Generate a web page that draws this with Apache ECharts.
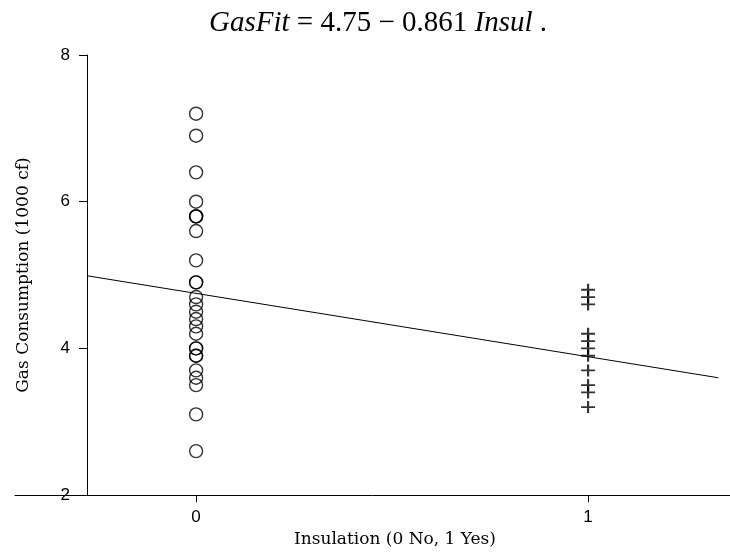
<!DOCTYPE html>
<html>
<head>
<meta charset="utf-8">
<script src="https://cdn.jsdelivr.net/npm/echarts@6/dist/echarts.min.js"></script>
<style>
  html, body { margin: 0; padding: 0; background: #fff; }
  #main { width: 730px; height: 553px; }
</style>
</head>
<body>
<div id="main"></div>
<script>
// gas use (1000 cf) for houses without insulation, x = 0
const gasNoInsul = [7.2, 6.9, 6.4, 6.0, 5.8, 5.8, 5.6, 4.7, 5.8, 5.2, 4.9, 4.9, 4.3,
  4.4, 4.5, 4.6, 3.7, 3.9, 4.2, 4.0, 3.9, 3.5, 4.0, 3.6, 3.1, 2.6];
// with insulation, x = 1
const gasInsul = [4.8, 4.7, 4.6, 4.2, 4.1, 4.0, 3.9, 3.7, 3.5, 3.4, 3.2];
// fitted line end points
const fitX = [-0.278, 1.332];
const fitY = [4.99, 3.60];
const xTicks = [0, 1];
const yTicks = [2, 4, 6, 8];

const times = '"Liberation Serif", serif';
const slab = '"DejaVu Serif", serif';
const sans = '"Liberation Sans", sans-serif';
const black = '#000';

var myChart = echarts.init(document.getElementById('main'));

const option = {
  animation: false,
  backgroundColor: '#fff',
  title: {
    text: '{i|GasFit} = 4.75 \u2212 0.861 {i|Insul} .',
    left: 204,
    top: 4,
    textStyle: {
      fontFamily: times,
      fontSize: 29,
      fontWeight: 'normal',
      color: black,
      rich: {
        i: { fontFamily: times, fontSize: 29, fontStyle: 'italic', color: black }
      }
    }
  },
  grid: { left: 15, right: 0, top: 55, bottom: 55 },
  xAxis: {
    type: 'value',
    min: -0.462,
    max: 1.362,
    name: 'Insulation (0 No, 1 Yes)',
    nameLocation: 'middle',
    nameGap: 35,
    nameTextStyle: { fontFamily: slab, fontSize: 17, color: black, padding: [0, 0, 0, 45] },
    splitLine: { show: false },
    axisLine: { onZero: false, lineStyle: { color: black, width: 1 } },
    axisTick: { customValues: xTicks, length: 7, lineStyle: { color: black } },
    axisLabel: {
      customValues: xTicks,
      margin: 14,
      fontFamily: sans,
      fontSize: 17,
      color: black
    }
  },
  yAxis: {
    type: 'value',
    min: 2,
    max: 8,
    interval: 2,
    offset: -72,
    name: 'Gas Consumption (1000 cf)',
    nameLocation: 'middle',
    nameGap: 55,
    nameTextStyle: { fontFamily: slab, fontSize: 17, color: black },
    splitLine: { show: false },
    axisLine: { show: true, onZero: false, lineStyle: { color: black, width: 1 } },
    axisTick: { show: true, length: 8, lineStyle: { color: black } },
    axisLabel: {
      margin: 17,
      fontFamily: sans,
      fontSize: 17,
      color: black,
      formatter: v => (yTicks.indexOf(v) >= 0 ? String(v) : '')
    }
  },
  series: [
    {
      name: 'No insulation',
      type: 'scatter',
      symbol: 'circle',
      symbolSize: 13,
      itemStyle: { color: 'rgba(0,0,0,0)', borderColor: black, borderWidth: 1.4 },
      data: gasNoInsul.map(v => [0, v])
    },
    {
      name: 'Insulation',
      type: 'scatter',
      symbol: 'path://M7,0L7,12M0,6L14,6',
      symbolSize: [14, 12],
      symbolKeepAspect: false,
      itemStyle: { color: 'none', borderColor: black, borderWidth: 2 },
      data: gasInsul.map(v => [1, v])
    },
    {
      name: 'Fit',
      type: 'line',
      symbol: 'none',
      lineStyle: { color: black, width: 1 },
      data: fitX.map((x, i) => [x, fitY[i]])
    }
  ]
};

myChart.setOption(option);
</script>
</body>
</html>
